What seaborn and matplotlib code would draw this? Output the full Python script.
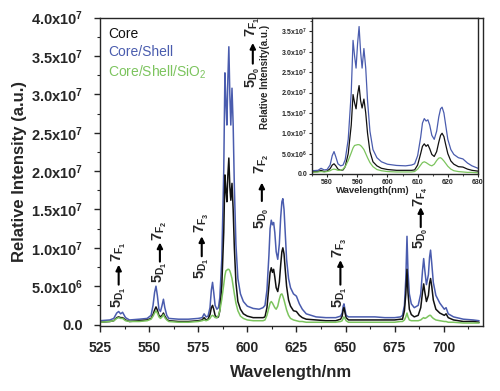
import numpy as np
import pandas as pd
import matplotlib
matplotlib.use("Agg")
import matplotlib.pyplot as plt
from matplotlib.ticker import FuncFormatter, MultipleLocator
from matplotlib.lines import Line2D
import seaborn as sns

# ---------------- data (intensity in units of 1e7) ----------------
wavelength = [
    525, 530, 532, 533.5, 534.5, 535.5, 536.5, 538, 540, 545,
    549, 551, 552, 552.8, 553.5, 554.2, 555, 555.8, 556.6, 557.3, 558, 559, 560,
    565, 570, 575, 577, 578, 579, 580, 581, 581.7, 582.3, 582.9, 583.6, 584.5, 585.3, 586, 587, 588,
    588.6, 589.1, 589.6, 590.1, 590.6, 591.1, 591.6, 592.2, 592.8, 593.4, 594.2, 595.2, 596.5, 598,
    600, 603, 606, 608, 609, 610, 611, 611.6, 612.2, 612.8, 613.4, 614, 614.7, 615.5, 616.3, 617, 617.6, 618.1,
    618.7, 619.3, 620, 621, 622, 623.5, 625, 626.5, 628, 630, 635,
    640, 645, 647.5, 648.3, 648.8, 649.2, 649.7, 650.3, 651.5, 655, 660, 665, 670, 675, 678, 679, 680, 680.7, 681.3, 681.8,
    682.5, 683.5, 685, 687, 688.3, 689.2, 689.8, 690.4, 691.2, 692.2, 692.8, 693.3, 693.9, 694.7, 696, 698, 700.3, 701.2,
    702.3, 705, 710, 715, 718,
]
core_shell = [
    0.05, 0.06, 0.08, 0.15, 0.17, 0.14, 0.16, 0.09, 0.06, 0.07,
    0.08, 0.12, 0.25, 0.42, 0.50, 0.38, 0.20, 0.17, 0.25, 0.33, 0.22, 0.12, 0.08,
    0.07, 0.07, 0.08, 0.09, 0.14, 0.10, 0.11, 0.22, 0.45, 0.55, 0.42, 0.25, 0.20, 0.22, 0.35, 0.85, 2.00,
    3.28, 2.90, 2.60, 3.20, 3.62, 3.00, 2.60, 3.08, 2.60, 1.80, 1.05, 0.60, 0.40, 0.30,
    0.24, 0.21, 0.20, 0.22, 0.25, 0.45, 0.90, 1.25, 1.36, 1.30, 1.33, 1.20, 0.95, 0.85, 1.05, 1.40, 1.60, 1.64,
    1.50, 1.20, 0.85, 0.60, 0.48, 0.40, 0.37, 0.27, 0.20, 0.14, 0.10,
    0.09, 0.09, 0.11, 0.15, 0.24, 0.27, 0.20, 0.12, 0.10, 0.10, 0.10, 0.10, 0.09, 0.09, 0.10, 0.12, 0.25, 0.60, 1.15, 0.70,
    0.40, 0.27, 0.22, 0.25, 0.40, 0.70, 0.86, 0.70, 0.52, 0.65, 0.88, 0.97, 0.80, 0.55, 0.38, 0.28, 0.20, 0.22,
    0.14, 0.10, 0.07, 0.06, 0.05,
]
core = [
    0.03, 0.04, 0.05, 0.09, 0.10, 0.09, 0.09, 0.06, 0.04, 0.05,
    0.06, 0.08, 0.13, 0.19, 0.23, 0.19, 0.12, 0.10, 0.12, 0.15, 0.11, 0.07, 0.05,
    0.04, 0.04, 0.05, 0.06, 0.09, 0.06, 0.07, 0.13, 0.22, 0.25, 0.20, 0.12, 0.09, 0.10, 0.18, 0.50, 1.20,
    1.95, 1.75, 1.60, 1.95, 2.17, 1.80, 1.62, 1.84, 1.50, 1.00, 0.55, 0.30, 0.20, 0.14,
    0.11, 0.09, 0.09, 0.09, 0.10, 0.22, 0.50, 0.68, 0.74, 0.68, 0.72, 0.62, 0.48, 0.43, 0.55, 0.78, 0.95, 1.00,
    0.92, 0.72, 0.50, 0.32, 0.24, 0.18, 0.17, 0.12, 0.09, 0.07, 0.06,
    0.05, 0.05, 0.07, 0.11, 0.19, 0.22, 0.16, 0.09, 0.06, 0.06, 0.06, 0.06, 0.06, 0.06, 0.07, 0.07, 0.18, 0.40, 0.72, 0.42,
    0.20, 0.13, 0.10, 0.12, 0.22, 0.42, 0.53, 0.42, 0.30, 0.38, 0.54, 0.60, 0.50, 0.32, 0.20, 0.15, 0.12, 0.14,
    0.09, 0.06, 0.04, 0.04, 0.03,
]
core_shell_sio2 = [
    0.03, 0.04, 0.05, 0.08, 0.09, 0.08, 0.08, 0.05, 0.04, 0.04,
    0.05, 0.07, 0.11, 0.15, 0.18, 0.15, 0.10, 0.08, 0.10, 0.13, 0.09, 0.06, 0.04,
    0.03, 0.03, 0.04, 0.05, 0.06, 0.05, 0.06, 0.08, 0.11, 0.12, 0.11, 0.09, 0.09, 0.12, 0.18, 0.33, 0.52,
    0.64, 0.70, 0.71, 0.72, 0.72, 0.70, 0.66, 0.60, 0.50, 0.40, 0.28, 0.18, 0.11, 0.08,
    0.06, 0.05, 0.05, 0.05, 0.06, 0.12, 0.22, 0.28, 0.30, 0.28, 0.25, 0.22, 0.20, 0.24, 0.33, 0.39, 0.40, 0.37,
    0.32, 0.26, 0.19, 0.12, 0.08, 0.06, 0.05, 0.04, 0.04, 0.03, 0.03,
    0.03, 0.03, 0.04, 0.05, 0.08, 0.10, 0.08, 0.05, 0.03, 0.03, 0.03, 0.03, 0.03, 0.03, 0.04, 0.04, 0.06, 0.10, 0.15, 0.10,
    0.06, 0.05, 0.05, 0.05, 0.06, 0.08, 0.09, 0.08, 0.09, 0.11, 0.12, 0.12, 0.10, 0.08, 0.06, 0.05, 0.04, 0.04,
    0.03, 0.03, 0.02, 0.02, 0.02,
]
series_names = ["Core", "Core/Shell", "Core/Shell/SiO2"]
legend_labels = ["Core", "Core/Shell", "Core/Shell/SiO$_2$"]
colors = {"Core": "#111111", "Core/Shell": "#4a5cae", "Core/Shell/SiO2": "#7cc45e"}

# transitions: (lower label, upper label, wavelength, lower-label y, arrow y0, arrow y1, upper-label y) (1e7)
transitions = [
    ("5_{D_1}", "7_{F_1}", 534.5, 0.36, 0.52, 0.78, 0.95),
    ("5_{D_1}", "7_{F_2}", 555.5, 0.68, 0.82, 1.07, 1.22),
    ("5_{D_1}", "7_{F_3}", 576.8, 0.73, 0.89, 1.15, 1.32),
    ("5_{D_0}", "7_{F_1}", 602.8, 3.22, 3.40, 3.67, 3.88),
    ("5_{D_0}", "7_{F_2}", 607.4, 1.38, 1.61, 1.85, 2.10),
    ("5_{D_1}", "7_{F_3}", 647.4, 0.36, 0.52, 0.84, 1.00),
    ("5_{D_0}", "7_{F_4}", 688.3, 1.12, 1.27, 1.53, 1.67),
]

assert len(wavelength) == len(core) == len(core_shell) == len(core_shell_sio2)

df = pd.concat([
    pd.DataFrame({"wl": wavelength, "I": np.array(core) * 1e7, "sample": "Core"}),
    pd.DataFrame({"wl": wavelength, "I": np.array(core_shell) * 1e7, "sample": "Core/Shell"}),
    pd.DataFrame({"wl": wavelength, "I": np.array(core_shell_sio2) * 1e7, "sample": "Core/Shell/SiO2"}),
])
hue_order = ["Core/Shell", "Core", "Core/Shell/SiO2"]

# ---------------- style ----------------
sns.set_style("ticks")
plt.rcParams["font.family"] = ["Liberation Sans", "DejaVu Sans"]
plt.rcParams["mathtext.fontset"] = "custom"
plt.rcParams["mathtext.rm"] = "Liberation Sans"
plt.rcParams["mathtext.bf"] = "Liberation Sans:bold"
plt.rcParams["mathtext.default"] = "regular"


def sci_fmt(v, pos):
    if abs(v) < 1:
        return "0.0"
    exp = int(np.floor(np.log10(abs(v)) + 1e-9))
    mant = v / 10 ** exp
    return f"{mant:.1f}x10$^{{{exp}}}$"


fig = plt.figure(figsize=(5.0, 3.91), dpi=100)
ax = fig.add_axes([0.200, 0.166, 0.766, 0.789])

sns.lineplot(data=df, x="wl", y="I", hue="sample", hue_order=hue_order, palette=colors,
             estimator=None, sort=False, legend=False, lw=1.1, ax=ax)
ax.set_xlim(525, 720)
ax.set_ylim(-2e5, 4.0e7)
ax.xaxis.set_major_locator(MultipleLocator(25))
ax.xaxis.set_minor_locator(MultipleLocator(12.5))
ax.yaxis.set_major_locator(MultipleLocator(5e6))
ax.yaxis.set_minor_locator(MultipleLocator(2.5e6))
ax.yaxis.set_major_formatter(FuncFormatter(sci_fmt))
ax.tick_params(axis="both", which="major", direction="out", length=4, width=1, labelsize=10)
ax.tick_params(axis="y", which="major", labelsize=10.5, pad=8)
ax.tick_params(axis="x", which="major", pad=7)
ax.tick_params(axis="both", which="minor", direction="out", length=2.5, width=0.8)
for lab in ax.get_xticklabels() + ax.get_yticklabels():
    lab.set_fontweight("bold")
for sp in ax.spines.values():
    sp.set_linewidth(1.0)
    sp.set_visible(True)
ax.set_xlabel("Wavelength/nm", fontsize=12, fontweight="bold", labelpad=7)
ax.set_ylabel("Relative Intensity (a.u.)", fontsize=12, fontweight="bold", labelpad=3)

handles = [Line2D([], [], color=colors[n], lw=0) for n in series_names]
leg = ax.legend(handles, legend_labels, loc="upper left", bbox_to_anchor=(-0.005, 1.0),
                frameon=False, handlelength=0, handletextpad=0, labelspacing=0.3,
                fontsize=10, borderpad=0.2)
for txt, n in zip(leg.get_texts(), series_names):
    txt.set_color(colors[n])

for lo, up, x, ylo, ya0, ya1, yup in transitions:
    ax.text(x, ylo * 1e7, rf"$\mathbf{{{lo}}}$", rotation=90, ha="center", va="center",
            fontsize=10.5)
    ax.text(x, yup * 1e7, rf"$\mathbf{{{up}}}$", rotation=90, ha="center", va="center",
            fontsize=10.5)
    ax.annotate("", xy=(x, ya1 * 1e7), xytext=(x, ya0 * 1e7),
                arrowprops=dict(arrowstyle="-|>", color="black", lw=1.5,
                                mutation_scale=8, shrinkA=0, shrinkB=0))

# ---------------- inset ----------------
axin = fig.add_axes([0.624, 0.555, 0.332, 0.399])
sns.lineplot(data=df, x="wl", y="I", hue="sample", hue_order=hue_order, palette=colors,
             estimator=None, sort=False, legend=False, lw=0.9, ax=axin)
axin.set_xlim(575, 630)
axin.set_ylim(0, 3.83e7)
axin.xaxis.set_major_locator(MultipleLocator(10))
axin.xaxis.set_minor_locator(MultipleLocator(5))
axin.yaxis.set_major_locator(MultipleLocator(5e6))
axin.yaxis.set_minor_locator(MultipleLocator(2.5e6))
axin.yaxis.set_major_formatter(FuncFormatter(sci_fmt))
axin.tick_params(axis="both", which="major", direction="out", length=2, width=0.8, labelsize=5, pad=1.5)
axin.tick_params(axis="both", which="minor", direction="out", length=1.2, width=0.6)
for lab in axin.get_xticklabels() + axin.get_yticklabels():
    lab.set_fontweight("bold")
for sp in axin.spines.values():
    sp.set_linewidth(1.0)
axin.set_xlabel("Wavelength(nm)", fontsize=6.8, fontweight="bold")
axin.set_ylabel("Relative Intensity(a.u.)", fontsize=7, fontweight="bold")
axin.xaxis.set_label_coords(0.365, -0.075)
axin.yaxis.set_label_coords(-0.25, 0.62)

fig.savefig("out.png", dpi=100)
